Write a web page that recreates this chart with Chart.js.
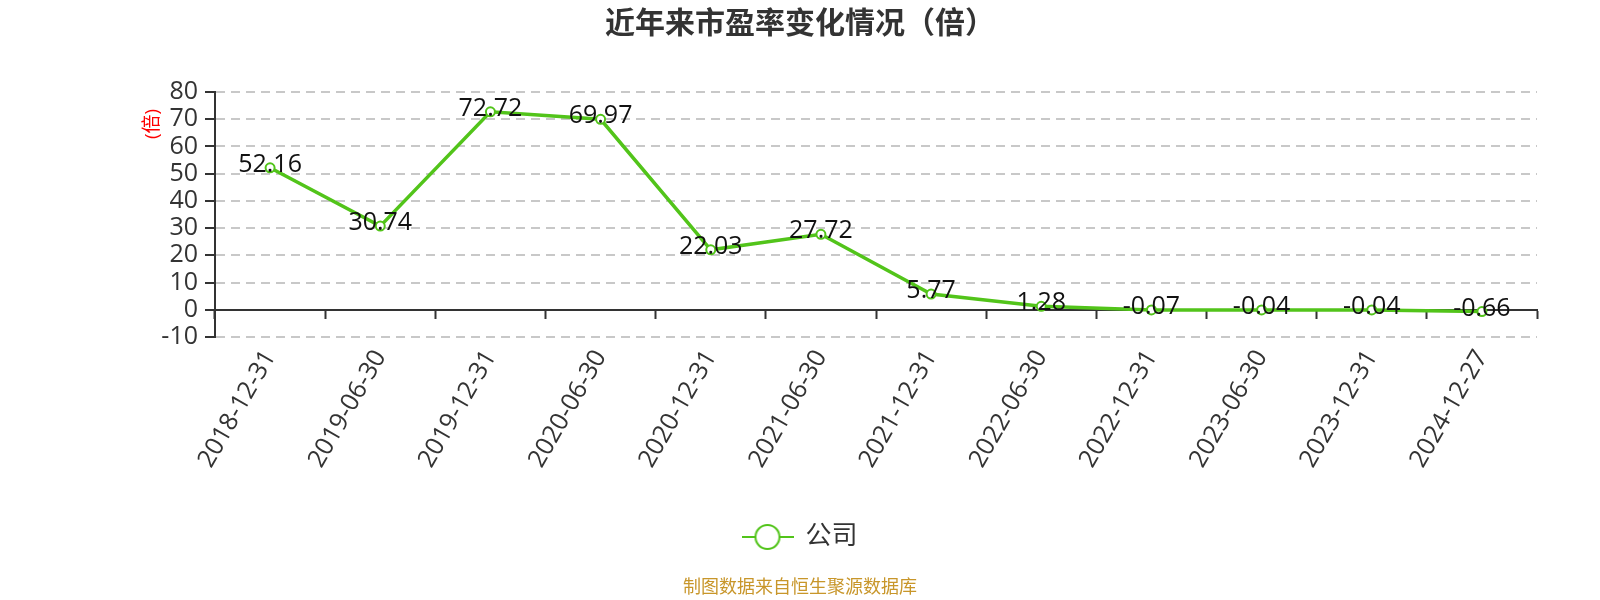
<!DOCTYPE html>
<html>
<head>
<meta charset="utf-8">
<script src="https://cdn.jsdelivr.net/npm/chart.js@4.4.1/dist/chart.umd.min.js"></script>
<style>
  html, body { margin: 0; padding: 0; background: #fff; }
</style>
</head>
<body>
<canvas id="peChart" width="1600" height="600"></canvas>
<script>
  // chart data
  const dates = ["2018-12-31", "2019-06-30", "2019-12-31", "2020-06-30", "2020-12-31", "2021-06-30",
    "2021-12-31", "2022-06-30", "2022-12-31", "2023-06-30", "2023-12-31", "2024-12-27"];
  const peValues = [52.16, 30.74, 72.72, 69.97, 22.03, 27.72, 5.77, 1.28, -0.07, -0.04, -0.04, -0.66];
  const seriesName = "公司";
  const yMin = -10, yMax = 80, yStep = 10;

  const green = '#52c41a';
  const fontFamily = "'Open Sans', 'Noto Sans CJK SC', sans-serif";

  // legend icon: line with an open circle
  function legendIcon() {
    const c = document.createElement('canvas');
    c.width = 52;
    c.height = 28;
    const ctx = c.getContext('2d');
    ctx.strokeStyle = green;
    ctx.lineWidth = 2;
    ctx.beginPath();
    ctx.moveTo(0, 14);
    ctx.lineTo(52, 14);
    ctx.stroke();
    ctx.beginPath();
    ctx.arc(26, 14, 12, 0, Math.PI * 2);
    ctx.fillStyle = '#fff';
    ctx.fill();
    ctx.stroke();
    return c;
  }
  const icon = legendIcon();

  // value labels, axis name and footer
  const extras = {
    id: 'extras',
    afterDatasetsDraw(chart) {
      const ctx = chart.ctx;
      const meta = chart.getDatasetMeta(0);
      ctx.save();
      ctx.font = '25px ' + fontFamily;
      ctx.fillStyle = '#111';
      ctx.textAlign = 'center';
      ctx.textBaseline = 'middle';
      meta.data.forEach((pt, i) => {
        ctx.fillText(peValues[i].toFixed(2), pt.x, pt.y - 3);
      });
      ctx.restore();
    },
    afterDraw(chart) {
      const ctx = chart.ctx;
      ctx.save();
      ctx.translate(153, 124);
      ctx.rotate(-Math.PI / 2);
      ctx.font = '19px ' + fontFamily;
      ctx.fillStyle = '#ff0000';
      ctx.textAlign = 'center';
      ctx.textBaseline = 'middle';
      ctx.fillText('(倍)', 0, 0);
      ctx.restore();

      ctx.save();
      ctx.font = '18px ' + fontFamily;
      ctx.fillStyle = '#c8962a';
      ctx.textAlign = 'center';
      ctx.textBaseline = 'middle';
      ctx.fillText('制图数据来自恒生聚源数据库', 800, 588);
      ctx.restore();
    }
  };

  new Chart(document.getElementById('peChart'), {
    type: 'line',
    data: {
      labels: dates,
      datasets: [{
        label: seriesName,
        data: peValues,
        borderColor: green,
        borderWidth: 3.5,
        pointRadius: 4.5,
        pointBorderWidth: 2,
        pointBackgroundColor: '#fff',
        pointBorderColor: green,
        tension: 0,
        xAxisID: 'x'
      }]
    },
    options: {
      responsive: false,
      animation: false,
      layout: { padding: { left: 0, right: 0, top: 0, bottom: 40 } },
      scales: {
        x: {
          type: 'category',
          position: 'bottom',
          offset: true,
          grid: { display: false },
          border: { display: false },
          ticks: {
            color: '#333',
            font: { size: 25, family: fontFamily },
            minRotation: 60,
            maxRotation: 60,
            padding: 0,
            autoSkip: false
          },
          afterFit: s => { s.height = 177; }
        },
        xz: {
          type: 'category',
          axis: 'x',
          position: { y: 0 },
          offset: true,
          grid: {
            offset: true,
            drawOnChartArea: false,
            drawTicks: true,
            tickLength: 8,
            tickColor: '#333',
            tickWidth: 2
          },
          border: { display: true, color: '#333', width: 2 },
          ticks: { display: false }
        },
        y: {
          min: yMin,
          max: yMax,
          ticks: {
            stepSize: yStep,
            autoSkip: false,
            color: '#333',
            padding: 7,
            font: { size: 25, family: fontFamily }
          },
          grid: {
            color: '#c8c8c8',
            lineWidth: 2,
            tickColor: '#333',
            tickLength: 10,
            tickWidth: 2,
            tickBorderDash: []
          },
          border: { display: true, color: '#333', width: 2, dash: [9, 6] },
          afterFit: s => { s.width = 215; }
        },
        yr: {
          position: 'right',
          grid: { display: false },
          border: { display: false },
          ticks: { display: false },
          afterFit: s => { s.width = 63; }
        }
      },
      plugins: {
        title: {
          display: true,
          text: '近年来市盈率变化情况（倍）',
          color: '#333',
          font: { size: 30, weight: 'bold', family: "'Noto Sans CJK SC', sans-serif" },
          padding: { top: 4, bottom: 52 }
        },
        legend: {
          position: 'bottom',
          labels: {
            usePointStyle: true,
            pointStyleWidth: 50,
            boxHeight: 26,
            padding: 10,
            color: '#333',
            font: { size: 26, family: fontFamily },
            generateLabels: chart => {
              const items = Chart.defaults.plugins.legend.labels.generateLabels(chart);
              items.forEach(item => { item.pointStyle = icon; });
              return items;
            }
          }
        },
        tooltip: { enabled: false }
      }
    },
    plugins: [extras]
  });
</script>
</body>
</html>
